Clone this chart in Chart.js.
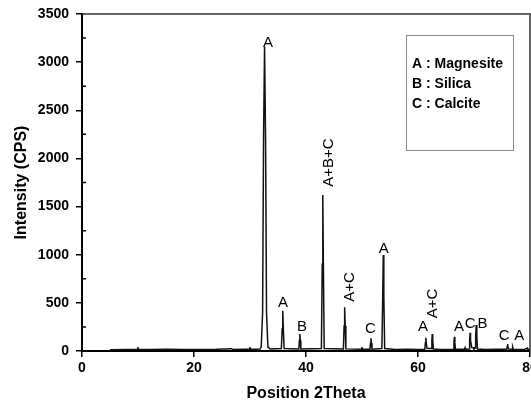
<!DOCTYPE html>
<html>
<head>
<meta charset="utf-8">
<script src="https://cdn.jsdelivr.net/npm/chart.js@4/dist/chart.umd.min.js"></script>
<style>
  html, body { margin: 0; padding: 0; background: #fff; }
  #wrap { width: 531px; height: 407px; }
</style>
</head>
<body>
<div id="wrap"><canvas id="xrd" width="531" height="407"></canvas></div>
<script>
// Diffraction trace (2theta in degrees, intensity in CPS)
const twoTheta = [
  5, 8, 12, 15, 18, 21, 24, 26.7, 27, 29, 31, 31.8,
  32.0, 32.25, 32.42, 32.6, 32.78, 32.95, 33.2, 33.6,
  35.6, 35.75, 35.85, 35.95, 36.1,
  38.72, 38.82, 38.9, 38.98, 39.08,
  42.75, 42.9, 43.0, 43.1, 43.25,
  46.68, 46.8, 46.9, 47.0, 47.12,
  49.5, 51.42, 51.52, 51.6, 51.68, 51.78,
  53.55, 53.7, 53.8, 53.9, 54.05,
  56, 58, 60,
  61.22, 61.32, 61.4, 61.5, 61.62, 62.4, 62.48, 62.55, 62.63, 62.75,
  64, 66.32, 66.42, 66.5, 66.58, 66.68,
  68.3, 68.4, 68.5,
  69.12, 69.22, 69.3, 69.38, 69.6, 70.2, 70.3, 70.4, 70.5, 70.62,
  72, 74, 75.85, 75.95, 76.0, 76.05, 76.2, 76.8, 76.9, 77.0,
  79, 79.5, 79.6, 80
];
const intensity = [
  14, 16, 15, 17, 15, 16, 17, 24, 15, 17, 18, 20,
  40, 400, 2200, 3160, 2200, 400, 40, 22,
  25, 230, 418, 230, 25,
  20, 110, 177, 110, 20,
  25, 900, 1620, 900, 25,
  22, 260, 454, 260, 22,
  17, 18, 80, 132, 80, 18,
  25, 560, 997, 560, 25,
  16, 17, 16,
  18, 85, 138, 70, 25, 25, 110, 177, 110, 20,
  16, 18, 90, 148, 90, 18,
  17, 35, 17,
  20, 110, 190, 110, 35, 30, 160, 270, 160, 20,
  16, 17, 18, 50, 73, 50, 20, 18, 40, 18,
  16, 30, 16, 15
];

const xTicks = [0, 20, 40, 60, 80];
const yTicks = [0, 500, 1000, 1500, 2000, 2500, 3000, 3500];

// Peak assignments: text, anchor (bottom centre of the text) in data units
const noteText = ["A", "A", "B", "A+B+C", "A+C", "C", "A", "A", "A+C", "A", "C", "B", "C", "A"];
const noteTheta = [33.2, 35.9, 39.3, 44.1, 47.9, 51.5, 53.9, 60.9, 62.6, 67.3, 69.3, 71.5, 75.4, 78.1];
const noteCounts = [3157, 457, 211, 1706, 512, 184, 1015, 208, 340, 208, 242, 242, 114, 114];
const noteVertical = [false, false, false, true, true, false, false, false, true, false, false, false, false, false];

const legendLines = ["A : Magnesite", "B : Silica", "C : Calcite"];

const points = twoTheta.map((t, i) => ({ x: t, y: intensity[i] }));

// frame, inward minor ticks, peak labels and the phase box
const extras = {
  id: "extras",
  afterDraw(chart) {
    const { ctx, chartArea: a, scales } = chart;
    const xs = scales.x, ys = scales.y;
    ctx.save();

    // top and right frame
    ctx.strokeStyle = "#333";
    ctx.lineWidth = 1.5;
    ctx.beginPath();
    ctx.moveTo(a.left, a.top);
    ctx.lineTo(a.right, a.top);
    ctx.lineTo(a.right, a.bottom);
    ctx.stroke();

    // minor ticks pointing into the plot
    ctx.strokeStyle = "#000";
    ctx.lineWidth = 1.5;
    ctx.beginPath();
    for (let v = 250; v < 3500; v += 500) {
      const py = ys.getPixelForValue(v);
      ctx.moveTo(a.left, py);
      ctx.lineTo(a.left + 4, py);
    }
    for (let v = 10; v < 80; v += 20) {
      const px = xs.getPixelForValue(v);
      ctx.moveTo(px, a.bottom);
      ctx.lineTo(px, a.bottom - 4);
    }
    ctx.stroke();

    // peak labels
    ctx.fillStyle = "#000";
    ctx.font = "15px Arial, 'Liberation Sans', sans-serif";
    noteText.forEach((txt, i) => {
      const px = xs.getPixelForValue(noteTheta[i]);
      const py = ys.getPixelForValue(noteCounts[i]);
      if (noteVertical[i]) {
        ctx.save();
        ctx.translate(px, py);
        ctx.rotate(-Math.PI / 2);
        ctx.textAlign = "left";
        ctx.textBaseline = "middle";
        ctx.fillText(txt, 0, 0);
        ctx.restore();
      } else {
        ctx.textAlign = "center";
        ctx.textBaseline = "alphabetic";
        ctx.fillText(txt, px, py);
      }
    });

    // phase key
    ctx.strokeStyle = "#888";
    ctx.lineWidth = 1;
    ctx.strokeRect(406.5, 35.5, 107, 115);
    ctx.font = "bold 14px Arial, 'Liberation Sans', sans-serif";
    ctx.textAlign = "left";
    ctx.textBaseline = "middle";
    legendLines.forEach((line, i) => {
      ctx.fillText(line, 412, 64 + i * 20);
    });

    ctx.restore();
  }
};

const tickFont = { family: "Arial, 'Liberation Sans', sans-serif", size: 14, weight: "bold" };
const titleFont = { family: "Arial, 'Liberation Sans', sans-serif", size: 16, weight: "bold" };

new Chart(document.getElementById("xrd"), {
  type: "line",
  data: {
    datasets: [{
      data: points,
      borderColor: "#111",
      borderWidth: 1.5,
      pointRadius: 0,
      tension: 0,
      fill: false
    }]
  },
  options: {
    responsive: false,
    animation: false,
    layout: { padding: { top: 14, right: 1, left: 0, bottom: 0 } },
    plugins: { legend: { display: false }, tooltip: { enabled: false } },
    scales: {
      x: {
        type: "linear",
        min: 0,
        max: 80,
        afterBuildTicks: (s) => { s.ticks = xTicks.map((v) => ({ value: v })); },
        ticks: { font: tickFont, color: "#000", padding: 3, callback: (v) => String(v) },
        grid: { drawOnChartArea: false, drawTicks: true, tickLength: 6, color: "#000", lineWidth: 1.5 },
        border: { display: true, color: "#000", width: 2 },
        title: { display: true, text: "Position 2Theta", font: titleFont, color: "#000", padding: { top: 0, bottom: 4 } },
        afterFit: (s) => { s.height = 56; s.paddingLeft = 0; s.paddingRight = 0; }
      },
      y: {
        type: "linear",
        min: 0,
        max: 3500,
        afterBuildTicks: (s) => { s.ticks = yTicks.map((v) => ({ value: v })); },
        ticks: { font: tickFont, color: "#000", padding: 7, callback: (v) => String(v) },
        grid: { drawOnChartArea: false, drawTicks: true, tickLength: 6, color: "#000", lineWidth: 1.5 },
        border: { display: true, color: "#000", width: 2 },
        title: { display: true, text: "Intensity (CPS)", font: titleFont, color: "#000", padding: { top: 12, bottom: 0 } },
        afterFit: (s) => { s.width = 82; s.paddingTop = 0; s.paddingBottom = 0; }
      }
    }
  },
  plugins: [extras]
});
</script>
</body>
</html>
